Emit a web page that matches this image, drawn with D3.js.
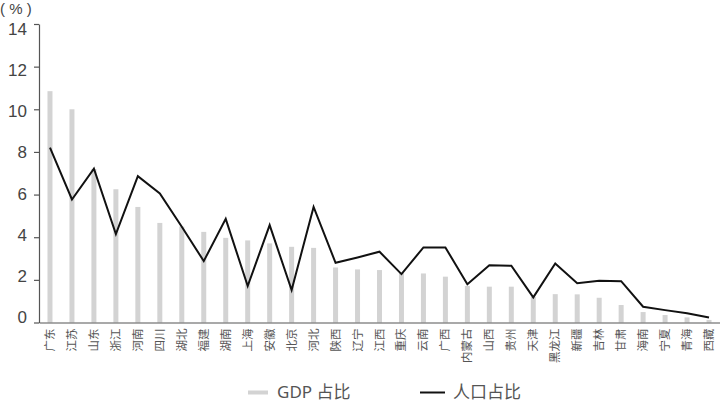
<!DOCTYPE html>
<html><head><meta charset="utf-8">
<script src="https://cdn.jsdelivr.net/npm/d3@7/dist/d3.min.js"></script>
<style>body{margin:0;background:#fff;}svg{display:block;}</style>
</head><body>
<svg id="c" width="720" height="403"></svg>
<script>
const provinces = ["广东","江苏","山东","浙江","河南","四川","湖北","福建","湖南","上海","安徽","北京","河北","陕西","辽宁","江西","重庆","云南","广西","内蒙古","山西","贵州","天津","黑龙江","新疆","吉林","甘肃","海南","宁夏","青海","西藏"];
const gdpShare = [10.85,10.0,7.2,6.25,5.42,4.67,4.5,4.25,3.97,3.85,3.71,3.55,3.5,2.58,2.49,2.46,2.35,2.3,2.15,1.71,1.68,1.68,1.2,1.33,1.32,1.16,0.82,0.49,0.35,0.24,0.12];
const popShare = [8.2,5.77,7.22,4.15,6.86,6.05,4.49,2.88,4.86,1.71,4.57,1.52,5.42,2.8,3.05,3.32,2.27,3.52,3.52,1.79,2.68,2.66,1.18,2.77,1.84,1.96,1.94,0.74,0.58,0.43,0.23];
const yTicks = [0,2,4,6,8,10,12,14];
const unitLabel = "( % )";
const legendLabels = ["GDP 占比","人口占比"];

const svg = d3.select("#c");
const font = "'Liberation Sans','Noto Sans CJK SC',sans-serif";
const x = d3.scaleBand().domain(provinces).range([39,720]).paddingInner(0).paddingOuter(0);
const y = d3.scaleLinear().domain([0,14]).range([322.5,24]);
const yLab = d3.scaleLinear().domain([0,14]).range([317,29]);
const bw = 5;

// bars
svg.append("g").selectAll("rect").data(provinces).join("rect")
  .attr("x", d => x(d) + x.bandwidth()/2 - bw/2)
  .attr("width", bw)
  .attr("y", (d,i) => y(gdpShare[i]))
  .attr("height", (d,i) => y(0) - y(gdpShare[i]))
  .attr("fill", "#d3d3d3");

// line
const line = d3.line().x((d,i) => x(provinces[i]) + x.bandwidth()/2).y(d => y(d));
svg.append("path").datum(popShare).attr("d", line)
  .attr("fill","none").attr("stroke","#111").attr("stroke-width",2).attr("stroke-linejoin","miter");

// y axis
const ya = svg.append("g").attr("transform","translate(39,0)")
  .call(d3.axisLeft(y).tickValues(yTicks).tickSize(5).tickSizeOuter(0).tickPadding(7));
ya.select(".domain").attr("stroke","#555").attr("stroke-width",1.2);
ya.selectAll(".tick line").attr("stroke","#555").attr("stroke-width",1.2);
ya.selectAll(".tick text").attr("font-family",font).attr("font-size",17).attr("fill","#444")
  .attr("transform", d => `translate(0,${yLab(d) - y(d)})`);

// x axis
const xa = svg.append("g").attr("transform","translate(0,322.5)")
  .call(d3.axisBottom(x).tickSize(0).tickSizeOuter(0).tickPadding(0));
xa.select(".domain").attr("stroke","#555").attr("stroke-width",1.2);
xa.selectAll(".tick text")
  .attr("font-family","'Noto Sans CJK SC',sans-serif").attr("font-size",11.5).attr("fill","#555")
  .attr("text-anchor","end").attr("dy","0.35em")
  .attr("transform","translate(0,6) rotate(-90)")
  .attr("x",0).attr("y",0);

// unit label
svg.append("text").attr("x",0).attr("y",14).text(unitLabel)
  .attr("font-family",font).attr("font-size",15).attr("fill","#444");

// legend
svg.append("rect").attr("x",248).attr("y",390.5).attr("width",20).attr("height",4).attr("fill","#d3d3d3");
svg.append("text").attr("x",277).attr("y",398).text(legendLabels[0])
  .attr("font-family","'Noto Sans','Noto Sans CJK SC',sans-serif").attr("font-size",17).attr("fill","#555");
svg.append("line").attr("x1",420).attr("x2",445).attr("y1",392.5).attr("y2",392.5).attr("stroke","#111").attr("stroke-width",2);
svg.append("text").attr("x",453).attr("y",398).text(legendLabels[1])
  .attr("font-family","'Noto Sans CJK SC',sans-serif").attr("font-size",17).attr("fill","#555");
</script>
</body></html>
